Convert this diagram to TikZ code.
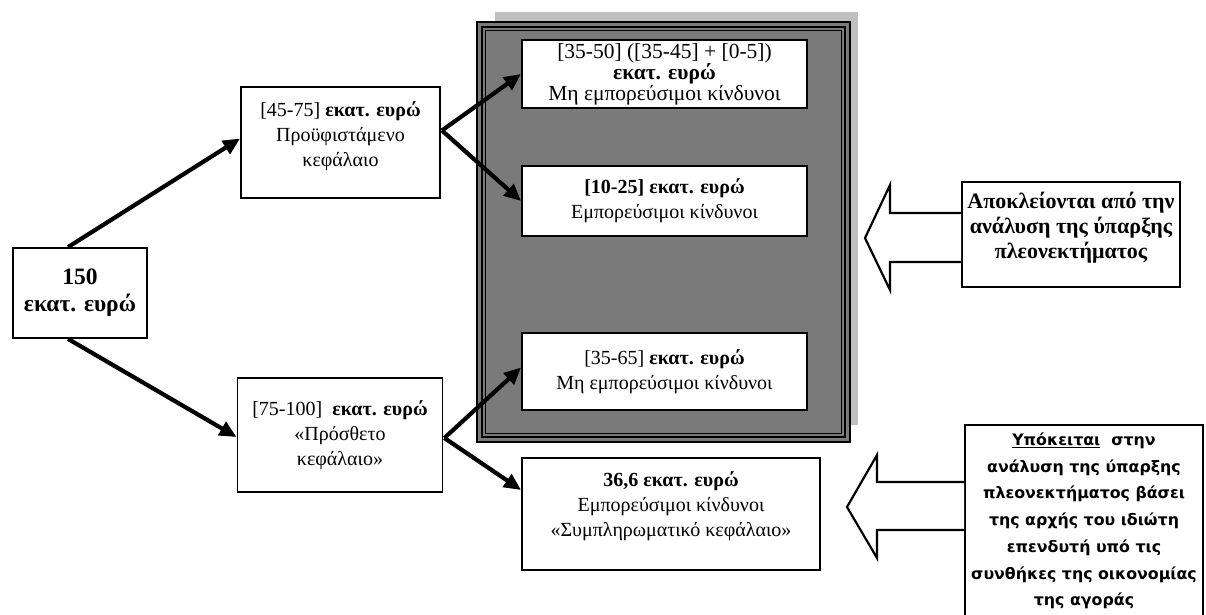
\documentclass[tikz,border=0pt]{standalone}
\usepackage{fontspec}
\setmainfont{Liberation Serif}
\newfontfamily\sansgr{DejaVu Sans}
\usetikzlibrary{arrows.meta,calc}
\begin{document}
\begin{tikzpicture}[x=1pt,y=-1pt,
  box/.style={draw=black,line width=1.8pt,fill=white,align=center,inner sep=0pt,
    font=\fontsize{20}{25}\selectfont},
  arr/.style={line width=4.2pt,-{Triangle[length=17pt,width=15pt]}},
  blk/.style={draw=black,line width=2.2pt,fill=white,line join=miter},
  frameline/.style={draw=black,line width=1.2pt}]
\useasboundingbox (0,0) rectangle (1206,615);
\fill[white] (0,0) rectangle (1206,615);
% shadow and frame
\fill[black!25] (495,12) rectangle (858,425);
\draw[fill=black!52,line width=2.2pt] (477,22) rectangle (850,442);
\draw[frameline] (482,27) rectangle (845,437);
\draw[frameline,line width=0.8pt] (485.5,30.5) rectangle (841.5,433.5);
% left boxes
\node[box,minimum width=134pt,minimum height=90pt,font=\fontsize{23.5}{27}\selectfont\bfseries] (n150) at (80,293)
  {150\\εκατ. ευρώ};
\node[box,minimum width=199pt,minimum height=111pt] (n4575) at (340.5,142.5)
  {[45-75] \textbf{εκατ. ευρώ}\\Προϋφιστάμενο\\κεφάλαιο\\[-8pt]\mbox{}};
\node[box,minimum width=205pt,minimum height=114pt] (n75100) at (340,435)
  {[75-100]~~\textbf{εκατ. ευρώ}\\«Πρόσθετο\\κεφάλαιο»};
% boxes inside frame
\node[box,minimum width=285pt,minimum height=68pt,font=\fontsize{21.5}{17}\selectfont] (r1) at (664.5,74)
  {[35-50] ([35-45] + [0-5])\\\textbf{εκατ. ευρώ}\\Μη εμπορεύσιμοι κίνδυνοι};
\node[box,minimum width=285pt,minimum height=70pt] (r2) at (664.5,201)
  {\textbf{[10-25] εκατ. ευρώ}\\Εμπορεύσιμοι κίνδυνοι};
\node[box,minimum width=285pt,minimum height=77pt] (r3) at (664.5,371.5)
  {[35-65] \textbf{εκατ. ευρώ}\\Μη εμπορεύσιμοι κίνδυνοι};
\node[box,minimum width=298pt,minimum height=112pt] (r4) at (671,514)
  {\textbf{36,6 εκατ. ευρώ}\\Εμπορεύσιμοι κίνδυνοι\\«Συμπληρωματικό κεφάλαιο»\\[-6pt]\mbox{}};
% right boxes
\node[box,minimum width=218pt,minimum height=105pt,font=\fontsize{22}{25}\selectfont\bfseries] (x1) at (1071,234.5)
  {Αποκλείονται από την\\ανάλυση της ύπαρξης\\πλεονεκτήματος\\[-6pt]\mbox{}};
\node[box,minimum width=238pt,minimum height=192pt,font=\sansgr\fontsize{15.8}{26.7}\selectfont\bfseries] (x2) at (1084,521)
  {\underline{Υπόκειται}~~στην\\ανάλυση της ύπαρξης\\πλεονεκτήματος βάσει\\της αρχής του ιδιώτη\\επενδυτή υπό τις\\συνθήκες της οικονομίας\\της αγοράς};
% block arrows
\draw[blk] (x1.west |- 0,213) -- (890,213) -- (890,185) -- (865,238) -- (890,290) -- (890,262) -- (x1.west |- 0,262);
\draw[blk] (x2.west |- 0,482) -- (877,482) -- (877,455) -- (847,507) -- (877,558) -- (877,530) -- (x2.west |- 0,530);
% arrows
\draw[arr] ($(n150.north)+(-12,0)$) -- ($(n4575.west)+(0,-4)$);
\draw[arr] ($(n150.south)+(-12,0)$) -- ($(n75100.west)+(0,2)$);
\coordinate (o1) at ($(n4575.east)+(1,-12)$);
\coordinate (o2) at ($(n75100.east)+(1,3)$);
\draw[arr] (o1) -- (r1.west);
\draw[arr] (o1) -- (r2.west);
\draw[arr] (o2) -- ($(r3.west)+(0,-4)$);
\draw[arr] (o2) -- ($(r4.west)+(0,-24)$);
\end{tikzpicture}
\end{document}
